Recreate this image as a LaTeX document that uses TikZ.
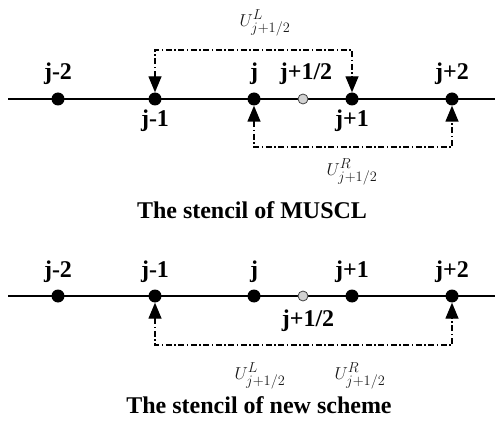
\documentclass[tikz,border=0pt]{standalone}
\usepackage{fontspec}
\setmainfont{Liberation Serif}
\usetikzlibrary{arrows.meta}
\begin{document}
\begin{tikzpicture}
  [x=1pt,y=-1pt,
  gitter/.style={line width=1.7pt},
  knoten/.style={circle,fill=black,inner sep=0pt,minimum size=13pt},
  mitte/.style={circle,draw=gray!50!black,fill=gray!35,inner sep=0pt,minimum size=10pt,line width=0.8pt},
  lab/.style={font=\bfseries\fontsize{24}{26}\selectfont,inner sep=0pt},
  titel/.style={font=\bfseries\fontsize{24}{26}\selectfont,inner sep=0pt},
  wert/.style={font=\fontsize{19}{21}\selectfont,text=black!90,inner sep=0pt},
  klammer/.style={line width=1.4pt,dash pattern=on 6pt off 2.5pt on 1.5pt off 2.5pt,
    {Triangle[length=16pt,width=13pt]}-{Triangle[length=16pt,width=13pt]}}]
  \useasboundingbox (0,0) rectangle (498,422);
  %MUSCL
  \coordinate (la) at (8,99);
  \coordinate (ra) at (495,99);
  \draw [gitter] (la) -- (ra);
  \node [knoten] (am2) at (58,99) {};
  \node [knoten] (am1) at (155,99) {};
  \node [knoten] (a0) at (254,99) {};
  \node [mitte] (ah) at (303,99) {};
  \node [knoten] (ap1) at (352,99) {};
  \node [knoten] (ap2) at (452,99) {};
  \node [lab] at (58,74) {j-2};
  \node [lab] at (155,121) {j-1};
  \node [lab] at (254,74) {j};
  \node [lab] at (306,74) {j+1/2};
  \node [lab] at (352,121) {j+1};
  \node [lab] at (452,74) {j+2};
  \coordinate (ao) at (250,50);
  \coordinate (au) at (350,147);
  \draw [klammer] (am1.north) |- (ao) -| (ap1.north);
  \draw [klammer] (a0.south) |- (au) -| (ap2.south);
  \node [wert] (aL) at (265,23) {$U^{L}_{j+1/2}$};
  \node [wert] (aR) at (352,172) {$U^{R}_{j+1/2}$};
  \node [titel] at (252,210) {The stencil of MUSCL};
  %neues Schema
  \coordinate (lb) at (8,296);
  \coordinate (rb) at (495,296);
  \draw [gitter] (lb) -- (rb);
  \node [knoten] (bm2) at (58,296) {};
  \node [knoten] (bm1) at (155,296) {};
  \node [knoten] (b0) at (254,296) {};
  \node [mitte] (bh) at (303,296) {};
  \node [knoten] (bp1) at (352,296) {};
  \node [knoten] (bp2) at (452,296) {};
  \node [lab] at (58,272) {j-2};
  \node [lab] at (155,272) {j-1};
  \node [lab] at (254,272) {j};
  \node [lab] at (352,272) {j+1};
  \node [lab] at (452,272) {j+2};
  \node [lab] at (308,321) {j+1/2};
  \coordinate (bu) at (300,345);
  \draw [klammer] (bm1.south) |- (bu) -| (bp2.south);
  \node [wert] (bL) at (260,376) {$U^{L}_{j+1/2}$};
  \node [wert] (bR) at (360,376) {$U^{R}_{j+1/2}$};
  \node [titel] at (259,405) {The stencil of new scheme};
\end{tikzpicture}
\end{document}
